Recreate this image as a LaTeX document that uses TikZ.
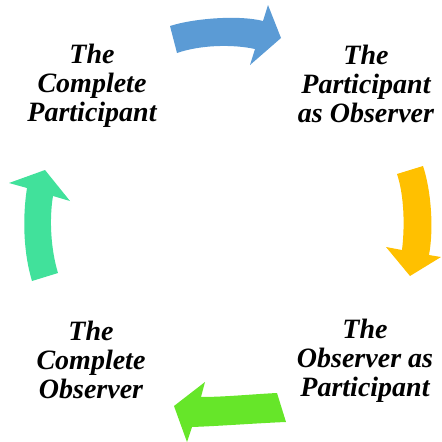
\documentclass[tikz,border=0pt]{standalone}
\usepackage{fontspec}
\setmainfont{Liberation Serif}
\begin{document}
\begin{tikzpicture}[x=1pt,y=-1pt,
  lbl/.style={font=\fontsize{28}{29}\selectfont\bfseries\itshape, align=center, inner sep=0pt},
  arr/.style={draw=none}]
\useasboundingbox (0,0) rectangle (442,442);
\definecolor{cblue}{HTML}{5B9BD5}
\definecolor{cyellow}{HTML}{FFC000}
\definecolor{cgreen}{HTML}{66E629}
\definecolor{cteal}{HTML}{41E19B}
\node[lbl] (cp) at (92,86) {The\\Complete\\Participant};
\node[lbl] (po) at (366,84) {The\\Participant\\as Observer};
\node[lbl] (op) at (365,361) {The\\Observer as\\Participant};
\node[lbl] (co) at (91,360) {The\\Complete\\Observer};
% blue arrow
\fill[cblue] (170,26) .. controls (195,18) and (240,15) .. (263,21) -- (268,5) -- (281,38) -- (250,65) -- (255,49)
  .. controls (232,44) and (200,45) .. (177,53) -- cycle;
% yellow arrow
\fill[cyellow] (397,174) -- (423,166) .. controls (431,190) and (434,228) .. (429,255) -- (441,257) -- (410,276) -- (386,247) -- (402,250)
  .. controls (405,225) and (404,195) .. (397,174) -- cycle;
% green arrow
\fill[cgreen] (277,393) .. controls (255,394) and (225,397) .. (201,397) -- (205,382) -- (174,406) -- (187,442) -- (192,427)
  .. controls (220,426) and (260,423) .. (286,422) -- cycle;
% teal arrow
\fill[cteal] (32,281) .. controls (24,255) and (22,220) .. (27,188) -- (9,183) -- (45,170) -- (70,201) -- (53,196)
  .. controls (49,220) and (51,250) .. (58,273) -- cycle;
\end{tikzpicture}
\end{document}
